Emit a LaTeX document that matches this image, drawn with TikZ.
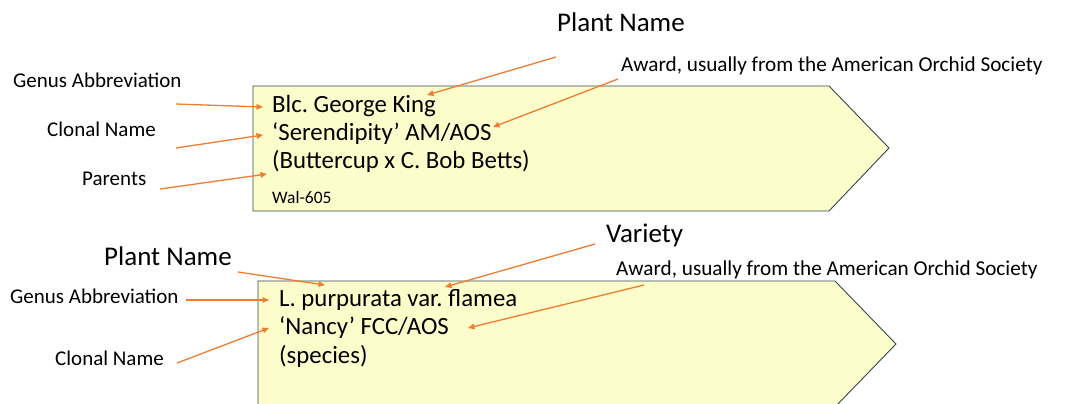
\documentclass[tikz,border=0pt]{standalone}
\usepackage{fontspec}
\setmainfont{Carlito}
\usetikzlibrary{arrows.meta}

\definecolor{tagfill}{HTML}{FDFDCB}
\definecolor{tagline}{HTML}{33474F}
\definecolor{pointer}{HTML}{ED7D31}

\tikzset{
  tagbox/.style={draw=tagline, fill=tagfill, line width=0.9pt},
  heading/.style={anchor=base west, inner sep=0pt, font=\fontsize{27}{30}\selectfont},
  label/.style={anchor=base west, inner sep=0pt, font=\fontsize{21}{25}\selectfont},
  award/.style={anchor=base west, inner sep=0pt, font=\fontsize{21.2}{24}\selectfont},
  tagtext/.style={anchor=base west, inner sep=0pt, font=\fontsize{24.8}{28}\selectfont},
  pointto/.style={draw=pointer, line width=1.3pt, -{Triangle[length=6.5pt,width=5.5pt]}}
}

\begin{document}
\frenchspacing
\begin{tikzpicture}[x=1pt, y=-1pt]
    \useasboundingbox (0,0) rectangle (1068,404);
    \clip (0,0) rectangle (1068,404);

    % Top tag

    \draw [tagbox] (253,86) -- (829,86) -- (889,148) -- (829,211)
          -- (253,211) -- cycle;
    \node (blc) [tagtext] at (272,112) {Blc. George King};
    \node (seren) [tagtext] at (272,140) {‘Serendipity’ AM/AOS};
    \node (butter) [tagtext] at (272,168) {(Buttercup x C. Bob Betts)};
    \node (wal) [anchor=base west, inner sep=0pt,
                 font=\fontsize{17.5}{20}\selectfont]
          at (272,203) {Wal-605};

    \node (plantA) [heading] at (557,32) {Plant Name};
    \node (awardA) [award] at (621,72)
          {Award, usually from the American Orchid Society};
    \node (genusA) [label] at (13,87) {Genus Abbreviation};
    \node (clonalA) [label] at (47,136) {Clonal Name};
    \node (parents) [label] at (82,185) {Parents};

    \coordinate (genusAfrom) at (176,104);
    \coordinate (genusAto) at (263,107);
    \coordinate (clonalAfrom) at (176,148);
    \coordinate (clonalAto) at (263,135);
    \coordinate (parentsfrom) at (160,189);
    \coordinate (parentsto) at (267,174);
    \coordinate (plantAfrom) at (556,57);
    \coordinate (plantAto) at (427,95);
    \coordinate (awardAfrom) at (618,79);
    \coordinate (awardAto) at (493,127);
    \draw [pointto] (genusAfrom) -- (genusAto);
    \draw [pointto] (clonalAfrom) -- (clonalAto);
    \draw [pointto] (parentsfrom) -- (parentsto);
    \draw [pointto] (plantAfrom) -- (plantAto);
    \draw [pointto] (awardAfrom) -- (awardAto);

    % Bottom tag

    \draw [tagbox] (258,281) -- (835,281) -- (896,344) -- (835,407)
          -- (258,407) -- cycle;
    \node (purp) [tagtext] at (279,306) {L. purpurata var. flamea};
    \node (nancy) [tagtext] at (279,334) {‘Nancy’ FCC/AOS};
    \node (species) [tagtext] at (279,363) {(species)};

    \node (plantB) [heading] at (104,265) {Plant Name};
    \node (variety) [heading] at (606,242) {Variety};
    \node (awardB) [award] at (616,275)
          {Award, usually from the American Orchid Society};
    \node (genusB) [label] at (10,303) {Genus Abbreviation};
    \node (clonalB) [label] at (55,365) {Clonal Name};

    \coordinate (plantBfrom) at (238,272);
    \coordinate (plantBto) at (325,285);
    \coordinate (genusBfrom) at (186,300);
    \coordinate (genusBto) at (269,300);
    \coordinate (clonalBfrom) at (177,363);
    \coordinate (clonalBto) at (269,328);
    \coordinate (varietyfrom) at (595,244);
    \coordinate (varietyto) at (445,287);
    \coordinate (awardBfrom) at (644,285);
    \coordinate (awardBto) at (468,328);
    \draw [pointto] (plantBfrom) -- (plantBto);
    \draw [pointto] (genusBfrom) -- (genusBto);
    \draw [pointto] (clonalBfrom) -- (clonalBto);
    \draw [pointto] (varietyfrom) -- (varietyto);
    \draw [pointto] (awardBfrom) -- (awardBto);
\end{tikzpicture}
\end{document}
